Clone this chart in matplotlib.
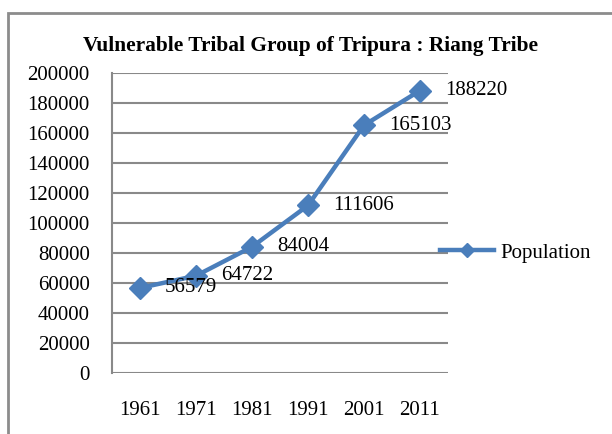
import matplotlib.pyplot as plt
from matplotlib.patches import Rectangle
from matplotlib.lines import Line2D

plt.rcParams['font.family'] = ['Liberation Serif', 'DejaVu Serif']

years = ['1961', '1971', '1981', '1991', '2001', '2011']
population = [56579, 64722, 84004, 111606, 165103, 188220]
yticks = list(range(0, 200001, 20000))

line_color = '#4A7EBB'
grid_color = '#898989'

fig = plt.figure(figsize=(6.12, 4.34), dpi=100)
ax = fig.add_axes([0.183, 0.141, 0.549, 0.691])

# outer chart frame (runs off the right and bottom of the image)
fig.patches.append(Rectangle((8 / 612, -0.1), 1.2, 0.97 + 0.1, transform=fig.transFigure,
                             fill=False, edgecolor='#8c8c8c', linewidth=2))

x = range(len(years))
ax.plot(x, population, color=line_color, linewidth=3.2, marker='D', markersize=11, zorder=3)

for xi, v in zip(x, population):
    ax.annotate(str(v), xy=(xi, v), xytext=(25, 0), textcoords='offset pixels',
                ha='left', va='center', fontsize=15)

ax.set_xlim(-0.5, len(years) - 0.5)
ax.set_ylim(0, 200000)
ax.set_yticks(yticks)
ax.set_yticklabels([str(t) for t in yticks], fontsize=15)
ax.set_xticks(list(x))
ax.set_xticklabels(years, fontsize=15)
ax.tick_params(axis='y', length=0, pad=16)
ax.tick_params(axis='x', length=0, pad=20)
ax.grid(axis='y', color=grid_color, linewidth=1.5)
ax.set_axisbelow(True)
for s in ['top', 'right', 'bottom']:
    ax.spines[s].set_visible(False)
ax.spines['left'].set_color(grid_color)
ax.spines['left'].set_linewidth(1.5)

fig.text(0.508, 0.895, 'Vulnerable Tribal Group of Tripura : Riang Tribe',
         ha='center', va='center', fontsize=15.4, fontweight='bold')

# legend marker is smaller than the plotted one, like in Excel
handle = Line2D([], [], color=line_color, linewidth=3.2, marker='D', markersize=7)
ax.legend([handle], ['Population'], loc='center left', bbox_to_anchor=(0.92, 0.4),
          frameon=False, fontsize=15, handlelength=2.6, handletextpad=0.3)

fig.savefig('out.png', dpi=100)
